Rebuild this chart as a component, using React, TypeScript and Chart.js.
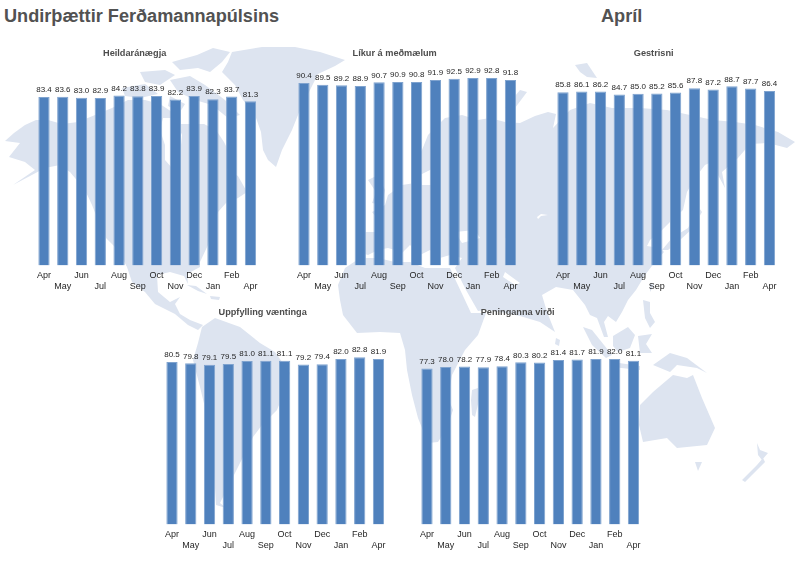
import { useEffect, useRef } from 'react'
import Chart from 'chart.js/auto'

const FONT = '"Liberation Sans", Arial, sans-serif'

// tvær línur til skiptis, eins og á fyrirmyndinni
const months = ['Apr', 'May', 'Jun', 'Jul', 'Aug', 'Sep', 'Oct', 'Nov', 'Dec', 'Jan', 'Feb', 'Apr']

const heildaranaegja = [83.4, 83.6, 83.0, 82.9, 84.2, 83.8, 83.9, 82.2, 83.9, 82.3, 83.7, 81.3]
const likurAMedmaelum = [90.4, 89.5, 89.2, 88.9, 90.7, 90.9, 90.8, 91.9, 92.5, 92.9, 92.8, 91.8]
const gestrisni = [85.8, 86.1, 86.2, 84.7, 85.0, 85.2, 85.6, 87.8, 87.2, 88.7, 87.7, 86.4]
const uppfylling = [80.5, 79.8, 79.1, 79.5, 81.0, 81.1, 81.1, 79.2, 79.4, 82.0, 82.8, 81.9]
const peninganna = [77.3, 78.0, 78.2, 77.9, 78.4, 80.3, 80.2, 81.4, 81.7, 81.9, 82.0, 81.1]

// bakgrunnskort, rakið gróflega eftir myndinni
const LAND = [
  // Norður-Ameríka
  '5,141 14,133 25,125 36,120 48,120 62,124 78,122 95,115 112,108 128,100 145,100 160,104 172,112 180,124 190,124 204,124 216,130 224,142 232,158 227,170 238,176 247,192 238,198 226,203 218,212 212,228 208,245 200,262 200,267 187,274 188,284 184,276 170,272 157,275 158,292 170,302 180,297 175,304 180,314 190,320 203,325 198,330 188,325 175,314 155,304 145,292 132,282 127,267 118,250 106,238 98,220 92,205 85,190 70,172 60,165 45,168 13,185 35,170 25,162 9,157 20,143',
  // Kanadísku eyjarnar
  '172,62 197,55 213,48 230,52 222,62 210,72 198,68 180,70',
  '170,80 190,76 205,85 225,100 240,115 228,118 212,105 195,100 178,92',
  '140,72 165,70 175,75 160,85 145,82',
  '122,88 145,84 158,94 140,98 125,96',
  '170,96 185,104 180,112 168,106',
  // Grænland
  '232,52 262,47 295,47 320,52 345,60 335,66 318,74 310,90 300,110 292,130 282,150 276,167 268,160 263,150 261,132 255,115 243,100 235,85 222,72 228,62',
  // Karíbahaf
  '187,285 196,286 207,294 198,291',
  '210,296 220,297 219,300 211,299',
  // Suður-Ameríka
  '202,327 215,318 240,327 260,343 275,352 290,373 285,390 277,410 262,425 253,437 243,457 230,483 220,503 226,508 216,505 214,470 212,437 200,387 193,360 198,343',
  // Afríka
  '345,268 338,285 340,300 343,315 357,333 380,332 400,333 405,350 407,370 412,395 418,418 428,443 438,442 447,428 453,410 448,398 452,375 465,350 478,335 486,313 471,313 464,298 456,281 450,268 440,268 425,268 410,262 395,262 378,258 360,258',
  // Evrasía
  '358,252 358,240 362,232 378,232 380,222 372,212 385,205 388,195 402,185 415,183 412,170 422,150 428,135 445,118 462,115 478,120 490,118 505,122 520,123 535,116 548,112 556,114 553,128 570,110 590,103 612,108 640,108 667,110 690,115 713,120 735,122 755,125 778,132 795,142 787,148 768,143 750,144 738,158 722,172 725,188 718,175 716,160 705,165 695,178 687,192 683,210 670,222 660,232 650,240 647,246 660,248 664,252 655,262 645,275 636,290 628,300 622,312 616,322 608,316 604,322 608,337 604,337 597,318 590,315 585,305 573,290 556,287 542,295 547,312 555,332 540,322 520,316 500,312 486,310 478,311 474,304 466,290 460,278 455,268 462,258 450,255 440,258 430,250 420,255 410,245 400,255 395,250 388,248 378,250 368,255',
  // Bretland
  '368,180 378,175 385,190 382,205 372,203 376,192',
  // Novaja Semlja og Severnaja
  '505,108 520,90 527,92 515,108',
  '575,65 587,63 597,78 587,77 580,72',
  // Japan, Taívan, Srí Lanka, Madagaskar
  '697,205 702,212 693,228 680,240 668,250 662,250 672,238 688,228 695,215',
  '650,283 654,285 650,292',
  '556,338 560,340 559,346 555,344',
  '472,390 478,388 479,400 475,417 472,415 471,400',
  // Eyjaálfa og Indónesía
  '583,327 592,330 612,355 606,358 592,345',
  '612,362 640,366 640,370 612,367',
  '613,336 628,327 635,335 630,348 618,352 613,346',
  '638,336 652,334 646,344 652,353 640,353',
  '643,300 650,302 650,313 655,322 650,328 645,318',
  '653,365 670,353 687,358 707,373 697,368 677,365 670,372',
  '640,405 653,392 673,375 687,378 693,375 702,398 715,428 707,445 677,448 667,438 643,442 639,425',
  '695,462 702,462 698,471',
  '742,480 757,465 763,458 765,462 752,475 745,482',
  '757,443 760,450 768,453 762,460 758,455',
]

const WATER = [
  '163,118 175,118 182,135 180,155 172,168 165,160 165,145 160,130',
  '455,232 475,230 480,238 462,243',
  '505,238 510,240 513,262 506,258',
  '420,175 430,170 440,165 432,185 422,185',
  '505,272 520,283 515,285 503,277',
  '537,217 541,214 548,215 541,216 538,219',
]

const valueLabels = {
  id: 'valueLabels',
  afterDatasetsDraw(chart: any) {
    const { ctx } = chart
    const meta = chart.getDatasetMeta(0)
    ctx.save()
    ctx.font = `8px ${FONT}`
    ctx.fillStyle = '#1f1f1f'
    ctx.textAlign = 'center'
    ctx.textBaseline = 'bottom'
    meta.data.forEach((bar: any, i: number) => {
      ctx.fillText(chart.data.datasets[0].data[i].toFixed(1), bar.x, bar.y - 3)
    })
    ctx.restore()
  },
}

function Panel({ title, values, left, top }: { title: string; values: number[]; left: number; top: number }) {
  const canvasRef = useRef<HTMLCanvasElement>(null)

  useEffect(() => {
    if (!canvasRef.current) return
    const chart = new Chart(canvasRef.current, {
      type: 'bar',
      data: {
        labels: months.map((m, i) => (i % 2 === 0 ? [m] : ['', m])),
        datasets: [{
          data: values,
          backgroundColor: '#4f81bd',
          borderColor: '#7fa3cf',
          borderWidth: 1,
          barPercentage: 0.6,
          categoryPercentage: 1,
        }],
      },
      options: {
        responsive: false,
        animation: false,
        layout: { padding: { left: 0, right: 0.7, top: 0, bottom: 0.5 } },
        plugins: {
          legend: { display: false },
          tooltip: { enabled: false },
          title: {
            display: true,
            text: title,
            color: '#4d4d4d',
            font: { family: FONT, size: 9.2, weight: 'bold', lineHeight: 1.2 },
            padding: { top: 8, bottom: 4.5 },
          },
        },
        scales: {
          x: {
            grid: { display: false, drawTicks: false },
            border: { display: false },
            afterFit: (s: any) => { s.height = 28 },
            ticks: {
              color: '#262626',
              padding: 4.5,
              autoSkip: false,
              maxRotation: 0,
              font: { family: FONT, size: 9, lineHeight: 1.22 },
            },
          },
          // ósýnilegur ás: heldur titlinum til vinstri við miðju súlnanna
          y: {
            min: 0,
            max: 100,
            grid: { display: false },
            border: { display: false },
            ticks: { display: false },
            afterFit: (s: any) => { s.width = 26.6 },
          },
        },
      },
      plugins: [valueLabels],
    })
    return () => chart.destroy()
  }, [title, values])

  return <canvas ref={canvasRef} width={254} height={254} style={{ position: 'absolute', left, top }} />
}

const headingStyle: React.CSSProperties = {
  position: 'absolute', top: 6, fontFamily: FONT, fontWeight: 'bold', fontSize: 18.15,
  lineHeight: '21px', color: '#525252', whiteSpace: 'nowrap',
}

export default function App() {
  return (
    <div style={{ position: 'absolute', left: 0, top: 0, width: 800, height: 582, background: '#fff', overflow: 'hidden' }}>
      <svg width={800} height={582} style={{ position: 'absolute', left: 0, top: 0 }}>
        {LAND.map((p, i) => <polygon key={i} points={p} fill="#dde4f0" />)}
        {WATER.map((p, i) => <polygon key={i} points={p} fill="#fff" />)}
      </svg>
      <div style={{ ...headingStyle, left: 4 }}>Undirþættir Ferðamannapúlsins</div>
      <div style={{ ...headingStyle, left: 601 }}>Apríl</div>
      <Panel title="Heildaránægja" values={heildaranaegja} left={8} top={40} />
      <Panel title="Líkur á meðmælum" values={likurAMedmaelum} left={268} top={40} />
      <Panel title="Gestrisni" values={gestrisni} left={527} top={40} />
      <Panel title="Uppfylling væntinga" values={uppfylling} left={136} top={299} />
      <Panel title="Peninganna virði" values={peninganna} left={391} top={299} />
    </div>
  )
}
